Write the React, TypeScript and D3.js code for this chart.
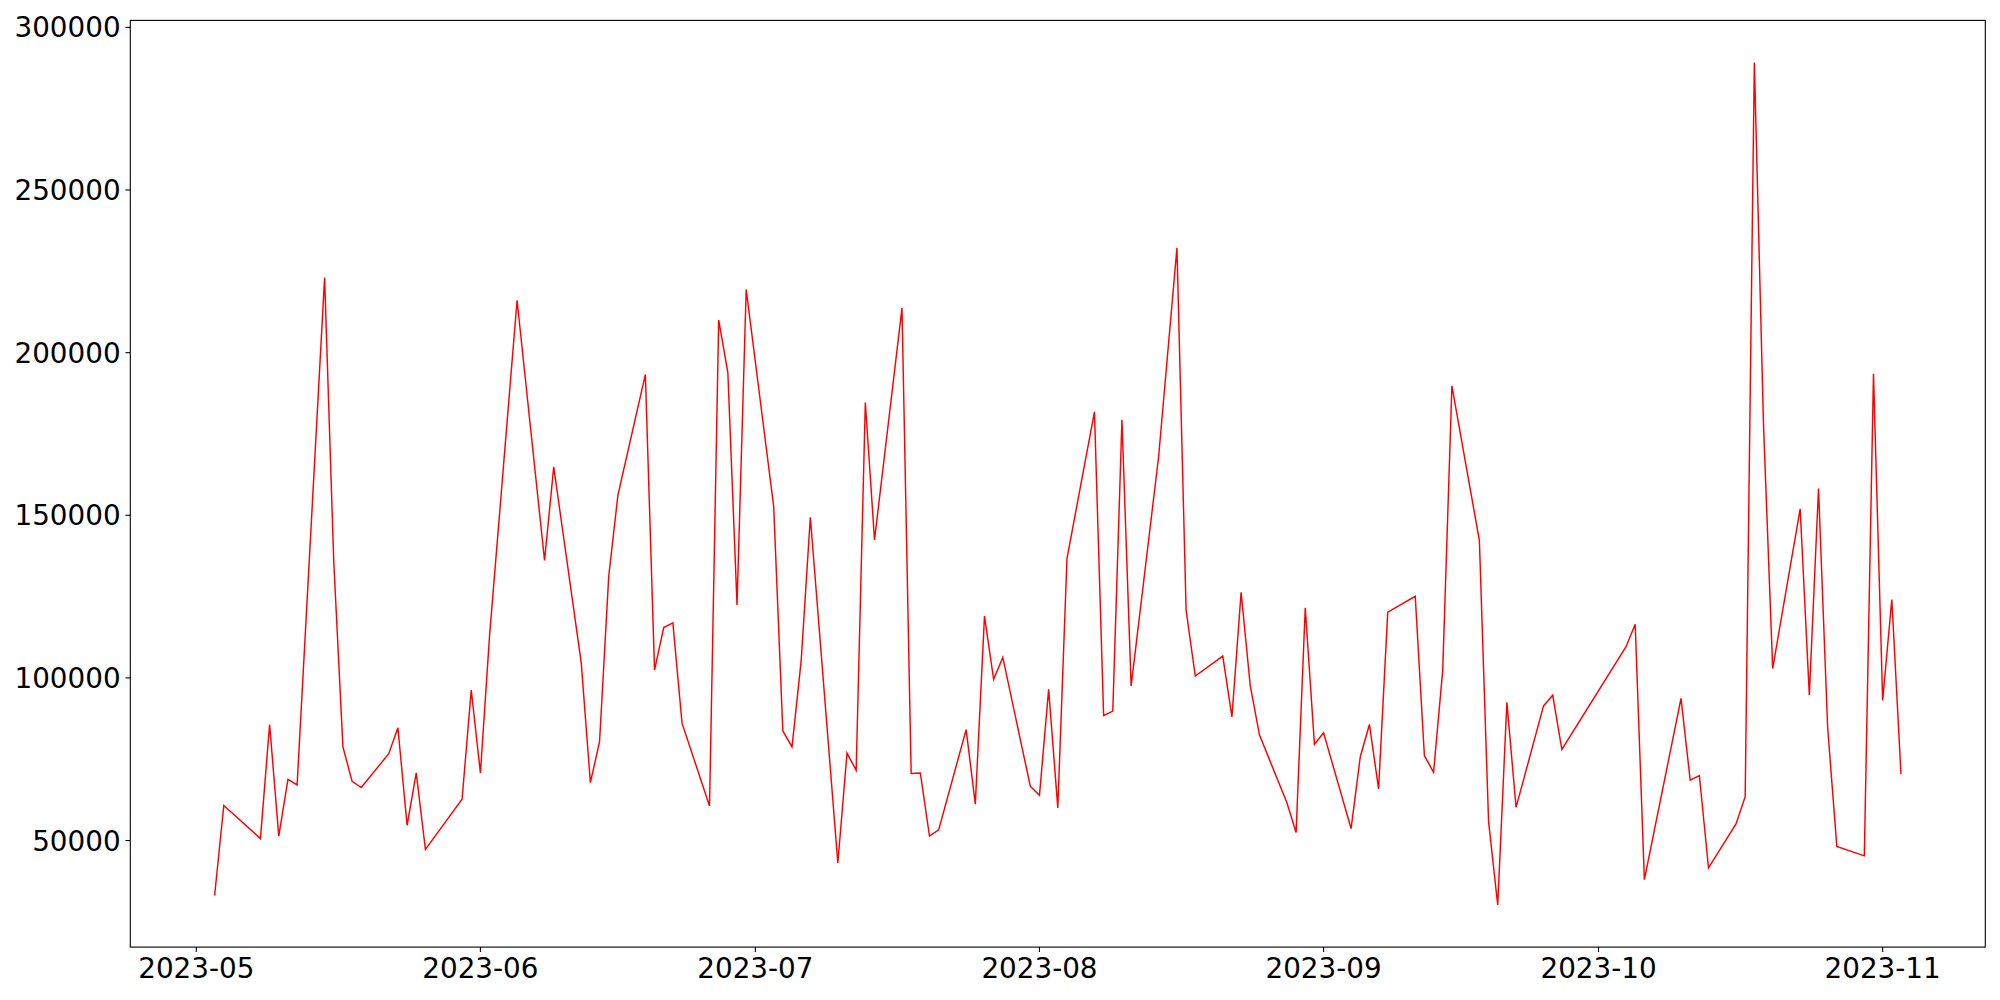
import React from "react";
import * as d3 from "d3";

const dates: string[] = [
  "2023-05-03","2023-05-04","2023-05-08","2023-05-09","2023-05-10","2023-05-11","2023-05-12",
  "2023-05-15","2023-05-16","2023-05-17","2023-05-18","2023-05-19","2023-05-22","2023-05-23",
  "2023-05-24","2023-05-25","2023-05-26","2023-05-30","2023-05-31","2023-06-01","2023-06-02",
  "2023-06-05","2023-06-08","2023-06-09","2023-06-12","2023-06-13","2023-06-14","2023-06-15",
  "2023-06-16","2023-06-19","2023-06-20","2023-06-21","2023-06-22","2023-06-23","2023-06-26",
  "2023-06-27","2023-06-28","2023-06-29","2023-06-30","2023-07-03","2023-07-04","2023-07-05",
  "2023-07-06","2023-07-07","2023-07-10","2023-07-11","2023-07-12","2023-07-13","2023-07-14",
  "2023-07-17","2023-07-18","2023-07-19","2023-07-20","2023-07-21","2023-07-24","2023-07-25",
  "2023-07-26","2023-07-27","2023-07-28","2023-07-31","2023-08-01","2023-08-02","2023-08-03",
  "2023-08-04","2023-08-07","2023-08-08","2023-08-09","2023-08-10","2023-08-11","2023-08-14",
  "2023-08-16","2023-08-17","2023-08-18","2023-08-21","2023-08-22","2023-08-23","2023-08-24",
  "2023-08-25","2023-08-28","2023-08-29","2023-08-30","2023-08-31","2023-09-01","2023-09-04",
  "2023-09-05","2023-09-06","2023-09-07","2023-09-08","2023-09-11","2023-09-12","2023-09-13",
  "2023-09-14","2023-09-15","2023-09-18","2023-09-19","2023-09-20","2023-09-21","2023-09-22",
  "2023-09-25","2023-09-26","2023-09-27","2023-10-04","2023-10-05","2023-10-06","2023-10-10",
  "2023-10-11","2023-10-12","2023-10-13","2023-10-16","2023-10-17","2023-10-18","2023-10-19",
  "2023-10-20","2023-10-23","2023-10-24","2023-10-25","2023-10-26","2023-10-27","2023-10-30",
  "2023-10-31","2023-11-01","2023-11-02","2023-11-03",
];

const values: number[] = [
  33100, 60800, 50600, 85700, 51400, 68800, 67100,
  223100, 135700, 78800, 68200, 66300, 76700, 84700,
  54700, 70800, 47300, 62700, 96300, 70800, 113000,
  216100, 136100, 164900, 104700, 67800, 80400, 131200,
  156100, 193300, 102400, 115500, 116900, 86100, 60600,
  210000, 193900, 122400, 219400, 152700, 83700, 78800,
  105300, 149400, 43100, 76900, 71600, 184700, 142400,
  213700, 70600, 70800, 51400, 53300, 84100, 61200,
  119000, 99600, 106300, 66700, 63900, 96500, 60000,
  136700, 181800, 88400, 89800, 179400, 97500, 168000,
  232200, 120800, 100600, 106700, 88000, 126300, 97600,
  82500, 61600, 52500, 121600, 79600, 83100, 53700,
  75700, 85700, 65900, 120200, 125100, 76100, 71000,
  102400, 189800, 142200, 55900, 30200, 92500, 60200,
  91400, 94700, 78000, 109600, 116500, 38000, 93700,
  68600, 70000, 41600, 55100, 63500, 289200, 177800,
  102900, 152000, 94700, 158200, 84700, 48200, 45300,
  193500, 93100, 124100, 70400,
];

const yTickValues: number[] = [50000, 100000, 150000, 200000, 250000, 300000];

const W = 2000;
const H = 1000;
const left = 130.3;
const right = 1985.3;
const top = 20.4;
const bottom = 947.1;
const FONT = "'DejaVu Sans', sans-serif";
const FS = 27.8;
const TICK = 4.86;

export default function App() {
  const parsed = dates.map((d) => d3.utcParse("%Y-%m-%d")(d) as Date);
  const [t0, t1] = d3.extent(parsed) as [Date, Date];
  const span = t1.getTime() - t0.getTime();
  const x = d3
    .scaleUtc()
    .domain([new Date(t0.getTime() - span * 0.05), new Date(t1.getTime() + span * 0.05)])
    .range([left, right]);
  const [v0, v1] = d3.extent(values) as [number, number];
  const vr = v1 - v0;
  const y = d3
    .scaleLinear()
    .domain([v0 - vr * 0.05, v1 + vr * 0.05])
    .range([bottom, top]);

  const line = d3
    .line<number>()
    .x((_, i) => x(parsed[i]))
    .y((v) => y(v));

  const monthTicks = d3.utcMonth.range(d3.utcMonth.ceil(x.domain()[0]), x.domain()[1]);
  const fmt = d3.utcFormat("%Y-%m");

  return (
    <svg
      width={W}
      height={H}
      style={{ position: "absolute", left: 0, top: 0, background: "#fff" }}
      xmlns="http://www.w3.org/2000/svg"
    >
      <rect x={0} y={0} width={W} height={H} fill="#fff" />
      <path d={line(values) || ""} fill="none" stroke="#ff0000" strokeWidth={1.45} strokeLinejoin="miter" />
      <rect
        x={left}
        y={top}
        width={right - left}
        height={bottom - top}
        fill="none"
        stroke="#000"
        strokeWidth={1.1}
      />
      {yTickValues.map((v) => (
        <g key={v}>
          <line x1={left - TICK} x2={left} y1={y(v)} y2={y(v)} stroke="#000" strokeWidth={1.1} />
          <text
            x={left - TICK - 4.86}
            y={y(v) + 10}
            textAnchor="end"
            fontFamily={FONT}
            fontSize={FS}
            fill="#000"
          >
            {String(v)}
          </text>
        </g>
      ))}
      {monthTicks.map((t) => (
        <g key={t.toISOString()}>
          <line x1={x(t)} x2={x(t)} y1={bottom} y2={bottom + TICK} stroke="#000" strokeWidth={1.1} />
          <text
            x={x(t)}
            y={978}
            textAnchor="middle"
            fontFamily={FONT}
            fontSize={FS}
            fill="#000"
          >
            {fmt(t)}
          </text>
        </g>
      ))}
    </svg>
  );
}
